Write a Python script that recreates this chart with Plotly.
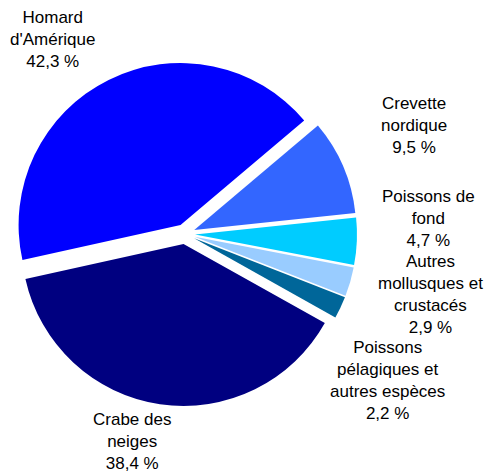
import plotly.graph_objects as go

categories = ["Homard<br>d'Amérique", "Crevette<br>nordique", "Poissons de<br>fond",
              "Autres<br>mollusques et<br>crustacés", "Poissons<br>pélagiques et<br>autres espèces",
              "Crabe des<br>neiges"]
values = [42.3, 9.5, 4.7, 2.9, 2.2, 38.4]
colors = ["#0000FF", "#3366FF", "#00CCFF", "#99CCFF", "#006699", "#000080"]

W, H = 487, 473
# label centres in pixels (layout, not data)
label_px = [(52, 40), (414, 125), (428, 218), (430, 294), (387, 380), (132, 441)]

fig = go.Figure(go.Pie(
    labels=categories,
    values=values,
    sort=False,
    direction="clockwise",
    rotation=-102.5,
    pull=[0.062] * len(values),
    marker=dict(colors=colors, line=dict(width=0)),
    textinfo="none",
    showlegend=False,
    hoverinfo="label+value",
    domain=dict(x=[13 / W, 357 / W], y=[1 - 406 / H, 1 - 62 / H]),
))

for cat, val, (px, py) in zip(categories, values, label_px):
    fig.add_annotation(
        x=px / W, y=1 - py / H, xref="paper", yref="paper",
        text=f"{cat}<br>{val:.1f}".replace(".", ",") + " %",
        showarrow=False, xanchor="center", yanchor="middle", align="center",
        font=dict(family="Liberation Sans, Arial, sans-serif", size=17, color="#000000"),
    )

fig.update_layout(
    width=W, height=H,
    margin=dict(l=0, r=0, t=0, b=0),
    paper_bgcolor="white",
    plot_bgcolor="white",
    separators=", ",
)

fig.write_html("out.html",
               config={"displayModeBar": False},
               post_script="document.body.style.margin='0';document.body.style.overflow='hidden';")
